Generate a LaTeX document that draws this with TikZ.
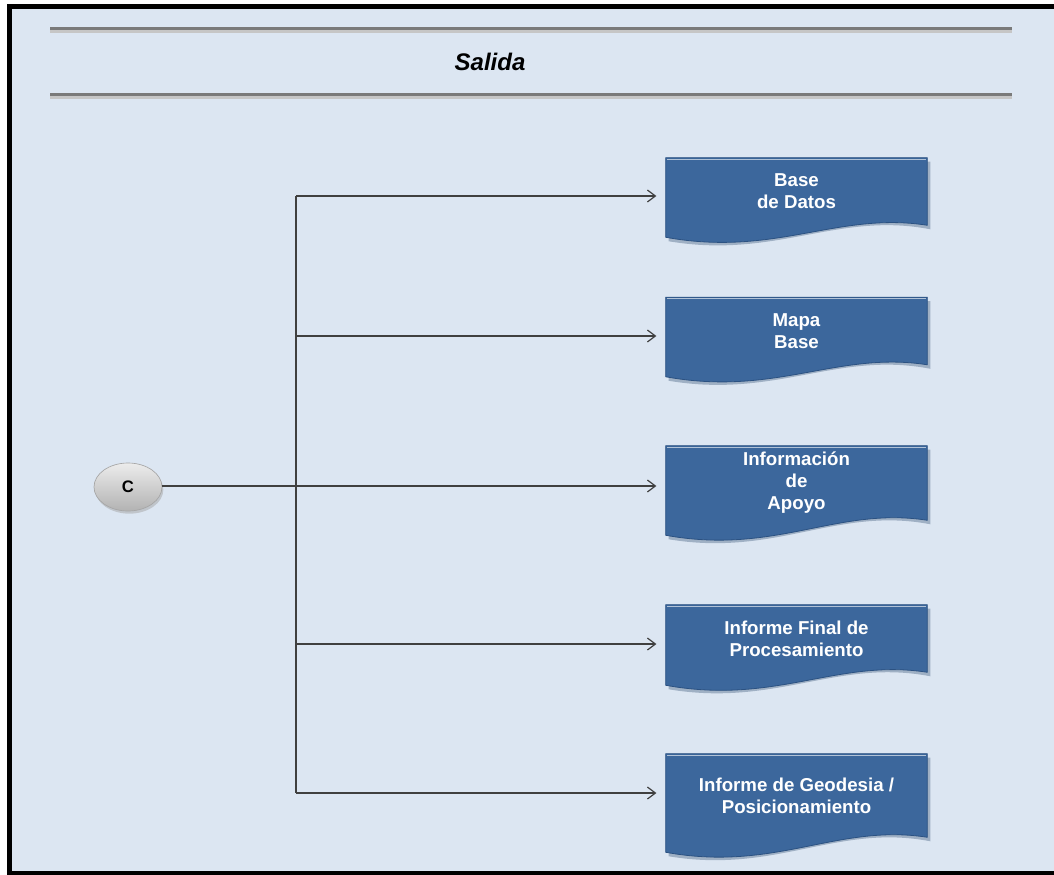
\documentclass[tikz,border=0pt]{standalone}
\usepackage{fontspec}
\setmainfont{Liberation Sans}
\usetikzlibrary{calc,arrows.meta,shadows,shapes.geometric}

\definecolor{pagebg}{HTML}{DCE6F2}
\definecolor{docblue}{HTML}{3C679C}
\definecolor{docedge}{HTML}{2C5282}
\definecolor{docshade}{HTML}{9FB0C4}
\definecolor{wire}{HTML}{404040}
\definecolor{rule}{HTML}{7A7A7A}

\pgfdeclarelayer{page}
\pgfdeclarelayer{back}
\pgfsetlayers{page,back,main}

\tikzset{
  docnode/.style={minimum width=195.75pt, inner sep=0pt, text=white,
    font=\bfseries\fontsize{14}{16.5}\selectfont, align=center},
  docbody/.style={fill=docblue, draw=docedge, line width=0.6pt},
  docshadow/.style={fill=docshade, draw=none},
  connector/.style={draw=wire, line width=1pt, -{Straight Barb[length=6pt,width=9pt,line width=0.9pt]}, shorten >=7pt},
  spine/.style={draw=wire, line width=1pt},
  ovalnode/.style={ellipse, minimum width=51pt, minimum height=36pt, inner sep=0pt,
    top color=gray!15, bottom color=gray!60, draw=gray!70, line width=0.5pt,
    drop shadow={shadow xshift=1pt, shadow yshift=-2pt, fill=black!35},
    font=\bfseries\fontsize{12.5}{14}\selectfont},
  headrule/.style={draw=rule, line width=2.4pt},
  headshade/.style={draw=gray!45, line width=2.4pt}
}

% document shape behind a node: flat top, wavy bottom that hangs lower on the left
\newcommand\docshape[2]{%
  \fill[docshadow] ($(#1.north west)+(3,4)$) -- ($(#1.north east)+(3,4)$) -- ($(#1.south east)+(3,4)$)
    .. controls ($(#1.south east)+(-90,-14)$) and ($(#1.south west)+(110,#2+22)$) .. ($(#1.south west)+(3,#2+4)$) -- cycle;
  \path[docbody] (#1.north west) -- (#1.north east) -- (#1.south east)
    .. controls ($(#1.south east)+(-90,-14)$) and ($(#1.south west)+(110,#2+20)$) .. ($(#1.south west)+(0,#2)$) -- cycle;
  \draw[white!60!docblue, line width=0.8pt] ($(#1.north west)+(1.5,1.5)$) -- ($(#1.north east)+(-1.5,1.5)$);
}

\begin{document}
\begin{tikzpicture}[x=0.75pt, y=-0.75pt]
  \useasboundingbox (0,0) rectangle (1054,875);
  \begin{pgfonlayer}{page}
    \fill[white] (0,0) rectangle (1054,875);
    \fill[pagebg] (10,6) rectangle (1054,873);
    \draw[black, line width=3.5pt] (1060,6.5) -- (9.5,6.5) -- (9.5,873) -- (1060,873);
  \end{pgfonlayer}

  % header
  \draw[headshade] (50,31) -- (1012,31);
  \draw[headrule] (50,28.5) -- (1012,28.5);
  \draw[headshade] (50,97) -- (1012,97);
  \draw[headrule] (50,94.5) -- (1012,94.5);
  \node[font=\bfseries\itshape\fontsize{18}{21}\selectfont] (title) at (490,62) {Salida};

  % output documents
  \node[docnode, minimum height=50.25pt] (b1) at (796.5,191.5) {Base\\de Datos};
  \node[docnode, minimum height=50.25pt] (b2) at (796.5,331) {Mapa\\Base};
  \node[docnode, minimum height=55.5pt]  (b3) at (796.5,483) {Informaci\'on\\de\\Apoyo};
  \node[docnode, minimum height=50.25pt] (b4) at (796.5,638.5) {Informe Final de\\Procesamiento};
  \node[docnode, minimum height=62.25pt] (b5) at (796.5,795.5) {Informe de Geodesia /\\Posicionamiento};

  \begin{pgfonlayer}{back}
    \docshape{b1}{12}
    \docshape{b2}{12}
    \docshape{b3}{15}
    \docshape{b4}{13}
    \docshape{b5}{15}
  \end{pgfonlayer}

  % connector C and the fan-out
  \node[ovalnode] (c) at (128,487) {C};
  \coordinate (s1) at (296,196);
  \coordinate (s2) at (296,336);
  \coordinate (s3) at (296,486);
  \coordinate (s4) at (296,644);
  \coordinate (s5) at (296,793);
  \draw[spine] (s1) -- (s5);
  \draw[connector] (s1) -- (s1 -| b1.west);
  \draw[connector] (s2) -- (s2 -| b2.west);
  \draw[connector] (c.east |- s3) -- (s3 -| b3.west);
  \draw[connector] (s4) -- (s4 -| b4.west);
  \draw[connector] (s5) -- (s5 -| b5.west);
\end{tikzpicture}
\end{document}
